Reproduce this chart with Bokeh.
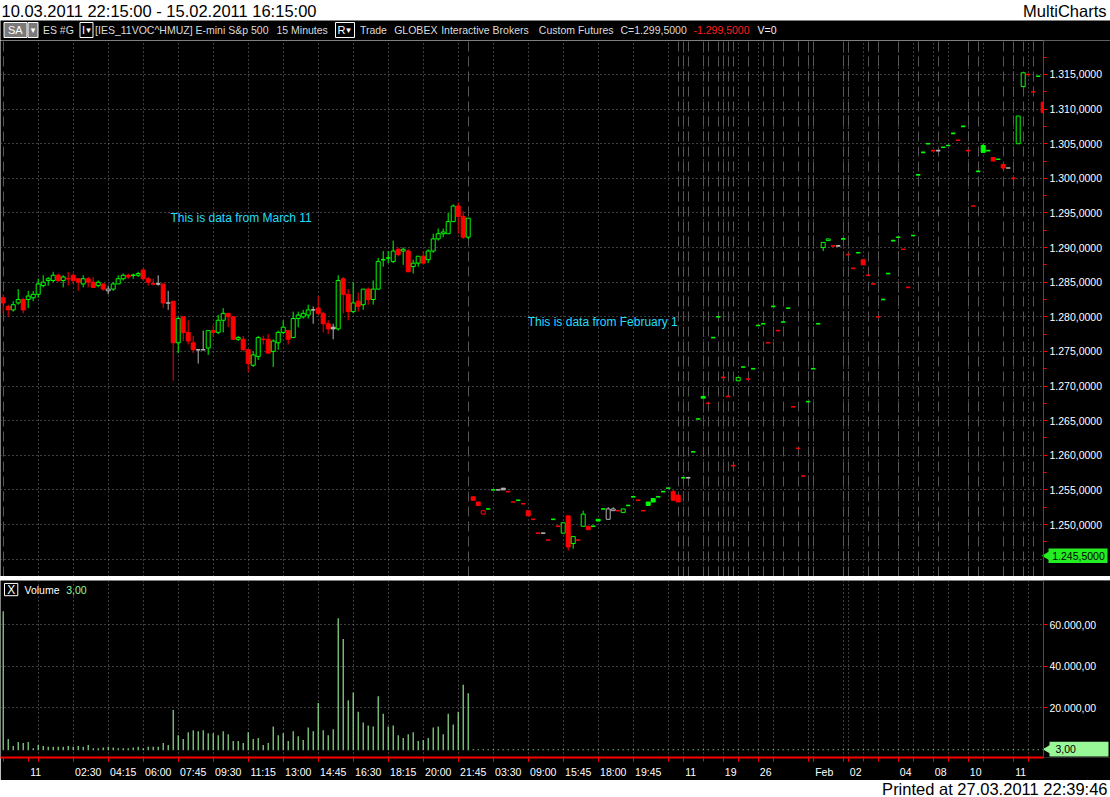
import numpy as np
from bokeh.plotting import figure
from bokeh.layouts import column
from bokeh.models import FixedTicker, CustomJSTickFormatter, Range1d, Grid, ColumnDataSource
from bokeh.core.properties import value
from bokeh.embed import file_html
from bokeh.resources import INLINE

# ---------------- data ----------------
title_text = "10.03.2011 22:15:00 - 15.02.2011 16:15:00"
brand_text = "MultiCharts"
printed_text = "Printed at 27.03.2011 22:39:46"
note_march = "This is data from March 11"
note_feb = "This is data from February 1"

# (open, high, low, close) - 15 minute bars, March 11 session
march_ohlc = [
    (1282.75, 1283.25, 1280.5, 1282.0), (1281.5, 1281.75, 1280.0, 1281.0),
    (1281.0, 1282.25, 1280.75, 1281.75), (1282.0, 1284.0, 1281.75, 1282.5),
    (1282.5, 1282.75, 1280.5, 1281.0), (1282.5, 1283.75, 1281.25, 1283.0),
    (1282.75, 1283.75, 1282.25, 1283.25), (1283.25, 1285.5, 1282.75, 1284.75),
    (1284.5, 1286.0, 1284.25, 1285.0), (1285.25, 1285.75, 1284.5, 1285.5),
    (1285.25, 1286.5, 1285.0, 1286.0), (1286.0, 1286.25, 1285.0, 1285.25),
    (1285.25, 1286.0, 1284.25, 1285.75), (1285.5, 1286.5, 1284.5, 1285.5),
    (1286.0, 1286.25, 1284.75, 1285.25), (1285.5, 1285.5, 1283.75, 1285.0),
    (1284.75, 1286.0, 1284.25, 1285.5), (1285.5, 1285.75, 1284.25, 1285.0),
    (1285.0, 1285.75, 1284.25, 1284.25), (1284.5, 1285.25, 1284.25, 1285.0),
    (1284.75, 1284.75, 1283.75, 1284.0), (1283.75, 1284.5, 1283.25, 1284.0),
    (1284.0, 1285.0, 1283.75, 1284.75), (1284.75, 1286.0, 1284.75, 1285.5),
    (1285.5, 1286.25, 1285.25, 1286.0), (1286.0, 1286.25, 1285.5, 1285.75),
    (1286.0, 1286.25, 1285.5, 1286.0), (1286.0, 1286.5, 1285.75, 1286.25),
    (1286.75, 1287.0, 1285.25, 1285.5), (1285.5, 1285.75, 1284.5, 1285.0),
    (1284.75, 1285.5, 1284.5, 1284.75), (1284.75, 1286.0, 1284.5, 1284.75),
    (1284.75, 1284.75, 1281.25, 1282.0), (1282.0, 1283.75, 1281.0, 1282.0),
    (1282.25, 1282.25, 1270.75, 1276.25), (1276.25, 1280.0, 1274.75, 1279.75),
    (1280.0, 1280.0, 1276.5, 1277.75), (1277.75, 1279.5, 1276.0, 1276.5),
    (1276.25, 1277.25, 1274.75, 1275.25), (1275.25, 1275.25, 1273.25, 1275.25),
    (1275.25, 1278.0, 1275.25, 1275.25), (1275.5, 1278.0, 1274.5, 1278.0),
    (1278.0, 1278.75, 1277.0, 1277.75), (1277.75, 1280.25, 1277.5, 1279.5),
    (1279.5, 1281.25, 1277.75, 1280.5), (1280.5, 1280.5, 1278.5, 1280.0),
    (1280.0, 1280.0, 1276.75, 1276.75), (1276.75, 1277.25, 1276.5, 1277.0),
    (1276.75, 1277.25, 1275.0, 1275.25), (1275.25, 1275.25, 1272.0, 1273.25),
    (1273.0, 1275.0, 1272.75, 1274.5), (1274.25, 1277.25, 1273.75, 1277.0),
    (1276.75, 1277.25, 1276.0, 1276.75), (1276.75, 1277.5, 1274.75, 1274.75),
    (1275.0, 1276.75, 1272.75, 1276.5), (1276.25, 1278.0, 1275.25, 1277.75),
    (1277.75, 1279.5, 1277.5, 1278.5), (1278.0, 1278.0, 1276.0, 1276.75),
    (1277.0, 1280.75, 1277.0, 1279.75), (1279.75, 1280.75, 1278.5, 1280.25),
    (1280.0, 1281.0, 1279.75, 1280.5), (1280.25, 1281.75, 1279.75, 1281.0),
    (1281.0, 1281.5, 1279.0, 1281.0), (1281.25, 1283.0, 1280.25, 1280.5),
    (1280.5, 1280.75, 1277.75, 1279.0), (1279.0, 1279.5, 1277.5, 1278.25),
    (1278.5, 1279.0, 1276.75, 1278.25), (1278.25, 1286.0, 1278.0, 1285.25),
    (1285.5, 1285.75, 1280.5, 1283.25), (1283.25, 1284.0, 1279.5, 1280.75),
    (1280.75, 1285.0, 1280.5, 1282.0), (1282.25, 1283.5, 1280.75, 1281.5),
    (1281.75, 1284.0, 1281.0, 1284.0), (1284.0, 1284.25, 1281.75, 1282.5),
    (1282.5, 1285.25, 1281.75, 1284.0), (1284.0, 1288.5, 1284.0, 1288.0),
    (1288.25, 1289.5, 1287.25, 1288.25), (1288.5, 1289.5, 1287.75, 1288.5),
    (1288.0, 1291.0, 1287.75, 1289.5), (1289.75, 1290.0, 1288.75, 1289.0),
    (1289.5, 1290.0, 1287.5, 1289.75), (1289.5, 1289.75, 1286.5, 1286.5),
    (1287.25, 1288.25, 1286.25, 1287.75), (1287.75, 1288.75, 1287.25, 1288.75),
    (1288.75, 1289.5, 1287.75, 1287.75), (1288.25, 1289.75, 1287.75, 1289.5),
    (1289.5, 1292.0, 1289.25, 1291.25), (1291.25, 1292.75, 1291.0, 1292.0),
    (1292.0, 1292.75, 1291.5, 1292.25), (1292.0, 1295.0, 1292.0, 1293.75),
    (1293.75, 1296.25, 1293.75, 1296.0), (1296.0, 1296.5, 1292.0, 1294.5),
    (1294.5, 1295.25, 1291.25, 1291.5), (1291.5, 1294.25, 1291.25, 1294.25),
]

# (open, high, low, close) - the February 1 data that follows
feb_ohlc = [
    (1254.0, 1254.0, 1253.5, 1253.5), (1253.25, 1253.25, 1252.75, 1252.75),
    (1251.5, 1252.0, 1251.5, 1252.0), (1252.25, 1252.25, 1252.25, 1252.25),
    (1255.0, 1255.0, 1255.0, 1255.0), (1255.0, 1255.0, 1255.0, 1255.0),
    (1255.25, 1255.25, 1255.0, 1255.0), (1254.75, 1254.75, 1254.75, 1254.75),
    (1253.25, 1253.25, 1253.25, 1253.25), (1253.5, 1253.5, 1253.5, 1253.5),
    (1253.0, 1253.0, 1253.0, 1253.0), (1252.0, 1252.0, 1251.25, 1251.25),
    (1250.75, 1250.75, 1250.75, 1250.75), (1248.75, 1248.75, 1248.75, 1248.75),
    (1248.75, 1248.75, 1248.75, 1248.75), (1247.75, 1247.75, 1247.75, 1247.75),
    (1250.75, 1250.75, 1250.75, 1250.75), (1249.75, 1249.75, 1249.75, 1249.75),
    (1248.75, 1250.25, 1248.75, 1250.25), (1251.25, 1251.25, 1246.25, 1246.75),
    (1247.25, 1248.25, 1246.5, 1248.25), (1247.75, 1247.75, 1247.75, 1247.75),
    (1249.75, 1252.0, 1249.75, 1251.5), (1249.75, 1249.75, 1249.25, 1249.25),
    (1249.75, 1249.75, 1249.75, 1249.75), (1250.75, 1250.75, 1250.5, 1250.5),
    (1252.25, 1252.25, 1252.25, 1252.25), (1250.75, 1252.5, 1250.75, 1252.25),
    (1252.0, 1252.5, 1252.0, 1252.25), (1252.0, 1252.0, 1252.0, 1252.0),
    (1251.75, 1252.25, 1251.75, 1252.25), (1252.75, 1252.75, 1252.75, 1252.75),
    (1254.0, 1254.0, 1254.0, 1254.0), (1253.5, 1253.5, 1253.5, 1253.5),
    (1252.0, 1252.0, 1252.0, 1252.0), (1253.25, 1253.25, 1252.75, 1252.75),
    (1253.75, 1253.75, 1253.25, 1253.25), (1254.0, 1254.0, 1254.0, 1254.0),
    (1254.75, 1254.75, 1254.75, 1254.75), (1255.25, 1255.25, 1255.25, 1255.25),
    (1254.75, 1255.0, 1253.5, 1253.5), (1254.25, 1254.25, 1253.25, 1253.25),
    (1256.75, 1256.75, 1256.75, 1256.75), (1256.75, 1256.75, 1256.75, 1256.75),
    (1260.5, 1260.5, 1260.5, 1260.5), (1265.25, 1265.25, 1265.25, 1265.25),
    (1268.5, 1268.5, 1268.25, 1268.25), (1267.5, 1267.5, 1267.5, 1267.5),
    (1277.0, 1277.0, 1277.0, 1277.0), (1280.0, 1280.0, 1280.0, 1280.0),
    (1271.25, 1271.25, 1271.25, 1271.25), (1268.5, 1268.5, 1268.5, 1268.5),
    (1258.5, 1258.5, 1258.5, 1258.5), (1270.75, 1271.25, 1270.75, 1271.25),
    (1272.75, 1272.75, 1272.75, 1272.75), (1271.0, 1271.0, 1271.0, 1271.0),
    (1272.5, 1272.5, 1272.5, 1272.5), (1278.75, 1278.75, 1278.75, 1278.75),
    (1279.0, 1279.0, 1279.0, 1279.0), (1276.25, 1276.25, 1276.25, 1276.25),
    (1281.5, 1281.5, 1281.5, 1281.5), (1278.0, 1278.0, 1278.0, 1278.0),
    (1279.25, 1279.25, 1279.25, 1279.25), (1281.25, 1281.25, 1281.25, 1281.25),
    (1267.0, 1267.0, 1267.0, 1267.0), (1261.0, 1261.0, 1261.0, 1261.0),
    (1257.0, 1257.0, 1257.0, 1257.0), (1267.75, 1267.75, 1267.75, 1267.75),
    (1272.5, 1272.5, 1272.5, 1272.5), (1279.0, 1279.0, 1279.0, 1279.0),
    (1290.0, 1290.75, 1289.5, 1290.75), (1291.0, 1291.25, 1291.0, 1291.25),
    (1290.25, 1290.25, 1290.25, 1290.25), (1290.25, 1290.25, 1290.25, 1290.25),
    (1291.25, 1291.25, 1291.25, 1291.25), (1289.0, 1289.0, 1289.0, 1289.0),
    (1287.0, 1287.0, 1287.0, 1287.0), (1289.25, 1289.25, 1289.25, 1289.25),
    (1288.25, 1288.25, 1287.5, 1287.5), (1286.0, 1286.0, 1286.0, 1286.0),
    (1284.75, 1284.75, 1284.75, 1284.75), (1280.0, 1280.0, 1280.0, 1280.0),
    (1282.5, 1282.5, 1282.5, 1282.5), (1286.25, 1286.25, 1286.25, 1286.25),
    (1291.0, 1291.0, 1291.0, 1291.0), (1291.5, 1291.5, 1291.5, 1291.5),
    (1289.75, 1289.75, 1289.75, 1289.75), (1284.25, 1284.25, 1284.25, 1284.25),
    (1291.75, 1291.75, 1291.75, 1291.75), (1300.5, 1300.5, 1300.5, 1300.5),
    (1303.75, 1303.75, 1303.75, 1303.75), (1305.0, 1305.0, 1305.0, 1305.0),
    (1304.0, 1304.0, 1304.0, 1304.0), (1304.0, 1304.0, 1304.0, 1304.0),
    (1304.5, 1304.5, 1304.5, 1304.5), (1304.75, 1304.75, 1304.75, 1304.75),
    (1306.5, 1306.5, 1306.5, 1306.5), (1305.5, 1305.5, 1305.5, 1305.5),
    (1307.5, 1307.5, 1307.5, 1307.5), (1304.0, 1304.0, 1304.0, 1304.0),
    (1296.0, 1296.0, 1296.0, 1296.0), (1301.0, 1301.0, 1301.0, 1301.0),
    (1304.75, 1305.0, 1303.75, 1303.75), (1304.0, 1304.0, 1304.0, 1304.0),
    (1303.0, 1303.0, 1302.5, 1302.5), (1302.75, 1302.75, 1302.75, 1302.75),
    (1302.0, 1302.0, 1301.25, 1301.5), (1301.5, 1301.5, 1301.5, 1301.5),
    (1300.0, 1300.0, 1300.0, 1300.0), (1305.0, 1309.0, 1305.0, 1309.0),
    (1313.25, 1315.25, 1313.25, 1315.25), (1315.0, 1315.0, 1315.0, 1315.0),
    (1312.5, 1312.5, 1312.5, 1312.5), (1314.75, 1314.75, 1314.75, 1314.75),
    (1311.0, 1311.0, 1309.5, 1309.5),
]

march_volume = [
    66360, 4840, 1560, 3430, 2970, 3430, 470, 2030, 1560, 1090,
    1090, 1090, 1090, 1560, 1090, 1560, 1090, 2030, 470, 470,
    780, 1090, 780, 470, 470, 470, 780, 1090, 470, 1090,
    1090, 1090, 2970, 2030, 18890, 6710, 4840, 8120, 9060, 8590,
    9060, 7650, 7650, 6710, 8590, 7180, 3900, 3900, 2970, 8120,
    4840, 5310, 2030, 2970, 10930, 6710, 7650, 3900, 8590, 6240,
    4370, 10460, 8590, 22170, 9060, 6710, 9530, 63080, 53090, 23580,
    27320, 17950, 12800, 11390, 10930, 25450, 17020, 10930, 11390, 6710,
    5310, 7180, 8120, 3900, 4370, 5310, 10460, 10930, 7180, 17020,
    11860, 17950, 31070, 26860,
]
feb_volume = [
    3, 3, 3, 3, 3, 3, 3, 3, 3, 3, 3, 3, 3, 3, 3, 3, 3, 3, 3, 3, 3, 3, 3,
    3, 3, 3, 3, 3, 3, 3, 3, 3, 3, 3, 3, 3, 3, 3, 3, 3, 3, 3, 3, 3, 3, 3,
    3, 3, 3, 3, 3, 3, 3, 3, 3, 3, 3, 3, 3, 3, 3, 3, 3, 3, 3, 3, 3, 3, 3,
    3, 3, 3, 3, 3, 3, 3, 3, 3, 3, 3, 3, 3, 3, 3, 3, 3, 3, 3, 3, 3, 3, 3,
    3, 3, 3, 3, 3, 3, 3, 3, 3, 3, 3, 3, 3, 3, 3, 3, 3, 3, 3, 3, 3, 3, 3,
]

price_ticks = [1250, 1255, 1260, 1265, 1270, 1275, 1280, 1285, 1290, 1295, 1300, 1305, 1310, 1315]
price_grid = [1245, 1250, 1255, 1260, 1265, 1270, 1275, 1280, 1285, 1290, 1295, 1300, 1305, 1310, 1315]
price_minor = [1242.5, 1247.5, 1252.5, 1257.5, 1262.5, 1267.5, 1272.5, 1277.5, 1282.5, 1287.5,
               1292.5, 1297.5, 1302.5, 1307.5, 1312.5, 1317.5]
volume_ticks = [20000, 40000, 60000]

time_tick_bars = [5, 14, 21, 28, 35, 42, 49, 56, 63, 70, 77, 84, 91, 98, 105, 112, 119, 126,
                  136, 144, 151, 162, 169, 179, 186, 193, 202]
time_tick_labels = ["11", "02:30", "04:15", "06:00", "07:45", "09:30", "11:15", "13:00", "14:45",
                    "16:30", "18:15", "20:00", "21:45", "03:30", "09:00", "15:45", "18:00", "19:45",
                    "11", "19", "26", "Feb", "02", "04", "08", "10", "11"]
grid_bars = [7, 14, 21, 28, 35, 42, 49, 56, 63, 70, 77, 84, 91, 98, 105, 112, 119, 126, 133, 136,
             140, 144, 147, 151, 154, 161, 162, 168, 169, 172, 175, 179, 182, 186, 189, 193, 196, 202, 205]
session_end_bars = [0, 93, 135, 136, 137, 140, 141, 143, 144, 145, 146, 149, 152, 154, 156, 159,
                    161, 162, 168, 169, 173, 175, 179, 183, 187, 193, 195, 200, 202, 204, 206]

last_price = 1245.5
last_price_text = "1.245,5000"
last_volume = 3
last_volume_text = "3,00"

info_texts = [("ES #G", 42.4, "#dcdcdc"), ("[IES_11VOC^HMUZ] E-mini S&p 500", 94.6, "#dcdcdc"),
              ("15 Minutes", 276.0, "#dcdcdc"), ("Trade", 359.4, "#dcdcdc"), ("GLOBEX", 393.7, "#dcdcdc"),
              ("Interactive Brokers", 440.7, "#dcdcdc"), ("Custom Futures", 538.3, "#dcdcdc"),
              ("C=1.299,5000", 620.0, "#dcdcdc"), ("-1.299,5000", 693.0, "#ff2020"), ("V=0", 757.0, "#f0f0f0")]

# ---------------- layout / style ----------------
FONT = "Liberation Sans"
W = 1110
H_HEAD, H_INFO, H_PRICE, H_SEP, H_VOL, H_FOOT = 20, 20, 536, 4, 200, 17
AX_H = 18
GREEN, RED, GRAY = "#00ff00", "#ff0000", "#b4b4b4"
DOT = "#7c7c7c"
PX_PER_BAR = 5.0
X0 = -0.54                       # first bar sits 2.7 px from the left edge
AXIS_X = 208.06                  # where the red price/volume axis stands

ohlc = np.array(march_ohlc + feb_ohlc, dtype=float)
O, HI, LO, C = ohlc.T
n = len(C)
idx = np.arange(n, dtype=float)
prev = np.concatenate([[O[0]], C[:-1]])
col = np.where(C > prev, GREEN, np.where(C < prev, RED, GRAY))
vol = np.array(march_volume + feb_volume, dtype=float)

xr = Range1d(X0, X0 + W / PX_PER_BAR)


def plain_fig(h, bg):
    f = figure(width=W, height=h, x_range=Range1d(0, W), y_range=Range1d(0, h),
               x_axis_location=None, y_axis_location=None, toolbar_location=None,
               output_backend="svg", min_border=0, background_fill_color=bg,
               border_fill_color=bg, outline_line_color=None)
    f.xgrid.visible = False
    f.ygrid.visible = False
    return f


def style_y_axis(ax):
    ax.fixed_location = AXIS_X
    ax.axis_line_color = RED
    ax.major_tick_line_color = RED
    ax.minor_tick_line_color = RED
    ax.major_tick_out = 4
    ax.major_tick_in = 0
    ax.minor_tick_out = 3
    ax.minor_tick_in = 0
    ax.major_label_text_color = "white"
    ax.major_label_text_font = FONT
    ax.major_label_text_font_size = "10.5px"
    ax.major_label_standoff = 2


# header
head = plain_fig(H_HEAD, "white")
head.text(x=[1], y=[H_HEAD / 2], text=[title_text], text_font=value(FONT), text_font_size="16.5px",
          text_baseline="middle", text_align="left", text_color="#000000")
head.text(x=[W - 4], y=[H_HEAD / 2], text=[brand_text], text_font=value(FONT), text_font_size="16.5px",
          text_baseline="middle", text_align="right", text_color="#000000")

# info line
info = plain_fig(H_INFO, "black")
info.quad(left=[3.5, 27.5], right=[26.5, 37.5], top=[18, 18], bottom=[3, 3],
          fill_color="#7a7a7a", line_color="white", line_width=1)
info.quad(left=[79.5, 335.0], right=[92.5, 354.0], top=[18, 18], bottom=[3, 3],
          fill_color="black", line_color="white", line_width=1)
info.text(x=[7.5], y=[10.5], text=["SA"], text_font=value(FONT), text_font_size="11px",
          text_baseline="middle", text_color="white")
info.text(x=[32.5, 88.0, 348.0], y=[10.5, 10.5, 10.5], text=["\u25be", "\u25be", "\u25be"],
          text_font=value("DejaVu Sans"), text_font_size="9px", text_baseline="middle",
          text_align="center", text_color="white")
info.text(x=[81.5, 337.0], y=[10.5, 10.5], text=["I", "R"], text_font=value(FONT), text_font_size="11px",
          text_baseline="middle", text_color="white")
info.text(x=[t[1] for t in info_texts], y=[10.5] * len(info_texts), text=[t[0] for t in info_texts],
          text_color=[t[2] for t in info_texts], text_font=value(FONT), text_font_size="10.5px",
          text_baseline="middle")

# price pane
p = figure(width=W, height=H_PRICE, x_range=xr, y_range=Range1d(1242.49, 1319.91),
           x_axis_location=None, y_axis_location="right", toolbar_location=None,
           output_backend="svg", min_border=0, background_fill_color="black",
           border_fill_color="black", outline_line_color=None)
p.xgrid.ticker = FixedTicker(ticks=grid_bars)
p.ygrid.ticker = FixedTicker(ticks=price_grid)
for g in (p.xgrid, p.ygrid):
    g.grid_line_color = DOT
    g.grid_line_dash = "1 3"
    g.grid_line_width = 1
p.add_layout(Grid(dimension=0, ticker=FixedTicker(ticks=session_end_bars), grid_line_color="#575757",
                  grid_line_dash="10 5", grid_line_width=1), "center")

ya = p.yaxis[0]
ya.ticker = FixedTicker(ticks=price_ticks, minor_ticks=price_minor)
ya.formatter = CustomJSTickFormatter(code="""
const s = Math.round(tick).toString();
return s.slice(0, 1) + "." + s.slice(1) + ",0000";
""")
style_y_axis(ya)

wick = HI > LO
p.segment(x0=idx[wick], y0=LO[wick], x1=idx[wick], y1=HI[wick], line_color=list(col[wick]), line_width=1)
body = O != C
bsrc = ColumnDataSource(dict(x=idx[body], top=np.maximum(O, C)[body], bottom=np.minimum(O, C)[body],
                             line=list(col[body]),
                             fill=list(np.where(C < O, col, "#000000")[body])))
p.vbar(x="x", top="top", bottom="bottom", width=0.8, source=bsrc, fill_color="fill",
       line_color="line", line_width=1)
flat = O == C
p.segment(x0=idx[flat] - 0.42, y0=C[flat], x1=idx[flat] + 0.42, y1=C[flat],
          line_color=list(col[flat]), line_width=1.6)

p.text(x=[33.46, 104.9], y=[1294.34, 1279.18], text=[note_march, note_feb], text_color="#22dcff",
       text_font=value(FONT), text_font_size="12px", text_baseline="middle")

# axis strip (covers grid lines right of the axis) + last price marker
p.quad(left=[AXIS_X], right=[xr.end], top=[1319.91], bottom=[1242.49], fill_color="black", line_color=None)
p.quad(left=[AXIS_X + 1.0], right=[AXIS_X + 12.8], top=[last_price + 1.05], bottom=[last_price - 1.05],
       fill_color="#22ee22", line_color=None)
p.scatter(x=[AXIS_X + 0.9], y=[last_price], marker="triangle", size=11, angle=np.pi / 2,
          fill_color="#22ee22", line_color=None)
p.text(x=[AXIS_X + 1.75], y=[last_price], text=[last_price_text], text_color="black",
       text_font=value(FONT), text_font_size="10.5px", text_baseline="middle")

# separator
sep = plain_fig(H_SEP, "#d6d6ce")

# volume pane
v = figure(width=W, height=H_VOL, x_range=xr, y_range=Range1d(-4028, 81220),
           y_axis_location="right", toolbar_location=None, output_backend="svg",
           min_border_left=0, min_border_right=0, min_border_top=0, min_border_bottom=AX_H,
           background_fill_color="black", border_fill_color="black", outline_line_color=None)
v.xgrid.ticker = FixedTicker(ticks=grid_bars)
v.ygrid.ticker = FixedTicker(ticks=volume_ticks)
for g in (v.xgrid, v.ygrid):
    g.grid_line_color = DOT
    g.grid_line_dash = "1 3"
    g.grid_line_width = 1

label_pos = [b + {2: 1.5, 3: 2.2, 5: 3.0}[len(l)] for b, l in zip(time_tick_bars, time_tick_labels)]
xa = v.xaxis[0]
xa.bounds = (X0, AXIS_X)
xa.ticker = FixedTicker(ticks=label_pos, minor_ticks=[0] + time_tick_bars + grid_bars)
xa.formatter = CustomJSTickFormatter(args=dict(pos=label_pos, labs=time_tick_labels), code="""
for (let k = 0; k < pos.length; k++) { if (Math.abs(pos[k] - tick) < 1e-6) return labs[k]; }
return "";
""")
xa.axis_line_color = RED
xa.axis_line_width = 2
xa.major_tick_line_color = None
xa.minor_tick_line_color = RED
xa.minor_tick_out = 4
xa.minor_tick_in = 0
xa.major_tick_out = 0
xa.major_tick_in = 0
xa.major_label_text_color = "white"
xa.major_label_text_font = FONT
xa.major_label_text_font_size = "10.5px"
xa.major_label_standoff = 4

vy = v.yaxis[0]
vy.ticker = FixedTicker(ticks=volume_ticks)
vy.formatter = CustomJSTickFormatter(code="""
const s = Math.round(tick).toString();
return s.slice(0, s.length - 3) + "." + s.slice(s.length - 3) + ",00";
""")
style_y_axis(vy)
vy.minor_tick_line_color = None

v.vbar(x=idx, top=vol, bottom=-500, width=0.22, fill_color="#98f898", line_color=None)

v.quad(left=[0.26], right=[2.92], top=[79800], bottom=[73900], fill_color="black",
       line_color="white", line_width=1)
v.text(x=[1.59], y=[76850], text=["X"], text_color="white", text_font=value(FONT),
       text_font_size="12px", text_baseline="middle", text_align="center")
v.text(x=[4.26, 12.6], y=[76850, 76850], text=["Volume", last_volume_text],
       text_color=["white", "#98f898"], text_font=value(FONT), text_font_size="10.5px",
       text_baseline="middle")

v.quad(left=[AXIS_X], right=[xr.end], top=[81220], bottom=[-4028], fill_color="black", line_color=None)
v.quad(left=[AXIS_X + 1.2], right=[AXIS_X + 13.0], top=[last_volume + 3500], bottom=[last_volume - 3500],
       fill_color="#98f898", line_color=None)
v.scatter(x=[AXIS_X + 1.1], y=[last_volume], marker="triangle", size=11, angle=np.pi / 2,
          fill_color="#98f898", line_color=None)
v.text(x=[AXIS_X + 2.4], y=[last_volume], text=[last_volume_text], text_color="black",
       text_font=value(FONT), text_font_size="10.5px", text_baseline="middle")

# footer
foot = plain_fig(H_FOOT, "white")
foot.text(x=[W - 3], y=[H_FOOT / 2], text=[printed_text], text_font=value(FONT), text_font_size="16.5px",
          text_baseline="middle", text_align="right", text_color="#000000")

layout = column(head, info, p, sep, v, foot, spacing=0)
open("out.html", "w").write(file_html(layout, INLINE))
